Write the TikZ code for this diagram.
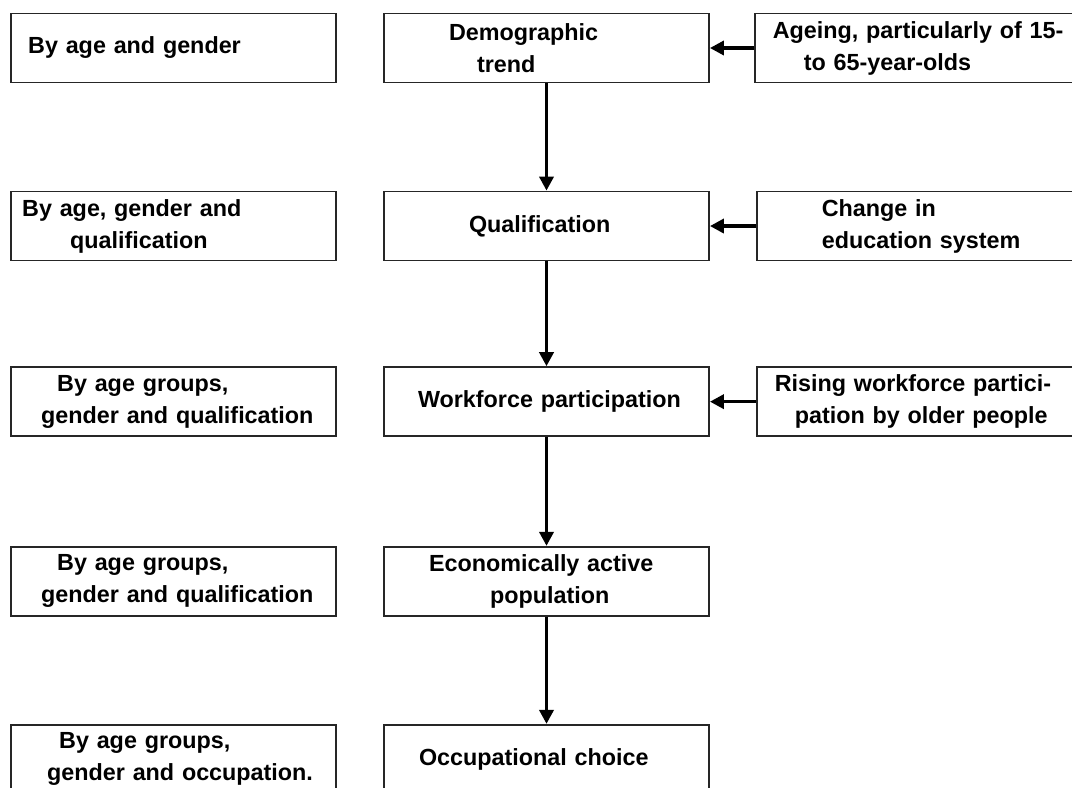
\documentclass[tikz,border=0pt]{standalone}
\usepackage{fontspec}
\setmainfont{Liberation Sans}
\usetikzlibrary{positioning,arrows.meta}

\tikzset{
  box/.style={draw=black!85, line width=1.3pt, minimum width=8.125cm, minimum height=1.725cm,
    inner sep=0pt, text width=8.125cm, align=left,
    font=\fontsize{16.6}{22.8}\selectfont\bfseries},
  rbox/.style={box, minimum width=8.6cm, text width=8.6cm},
  flow/.style={line width=2.6pt, -{Triangle[length=10pt,width=10pt]}},
}

\begin{document}
\begin{tikzpicture}
  \useasboundingbox (0,0) rectangle (26.8,-19.675);
  \clip (0,0) rectangle (26.8,-19.675);

  % middle column
  \node[box] (demo) at (13.6625,-1.2) {\hspace*{1.625cm}Demographic\\\hspace*{2.325cm}trend};
  \node[box, below=2.68cm of demo] (qual) {\hspace*{2.125cm}Qualification};
  \node[box, below=2.62cm of qual] (work) {\hspace*{0.85cm}Workforce participation};
  \node[box, below=2.72cm of work] (econ) {\hspace*{1.125cm}Economically active\\\hspace*{2.65cm}population};
  \node[box, below=2.68cm of econ] (occu) {\hspace*{0.875cm}Occupational choice};

  % left column
  \node[box, left=1.15cm of demo] (bydemo) {\hspace*{0.425cm}By age and gender};
  \node[box, left=1.15cm of qual] (byqual) {\hspace*{0.275cm}By age, gender and\\\hspace*{1.475cm}qualification};
  \node[box, left=1.15cm of work] (bywork) {\hspace*{1.15cm}By age groups,\\\hspace*{0.75cm}gender and qualification};
  \node[box, left=1.15cm of econ] (byecon) {\hspace*{1.15cm}By age groups,\\\hspace*{0.75cm}gender and qualification};
  \node[box, left=1.15cm of occu] (byoccu) {\hspace*{1.2cm}By age groups,\\\hspace*{0.9cm}gender and occupation.};

  % right column
  \node[rbox, right=1.1cm of demo] (ageing) {\hspace*{0.45cm}Ageing, particularly of 15-\\\hspace*{1.225cm}to 65-year-olds};
  \node[rbox, right=1.15cm of qual] (educ) {\hspace*{1.625cm}Change in\\\hspace*{1.625cm}education system};
  \node[rbox, right=1.15cm of work] (older) {\hspace*{0.45cm}Rising workforce partici-\\\hspace*{0.95cm}pation by older people};

  % arrows
  \draw[flow] (demo) -- (qual);
  \draw[flow] (qual) -- (work);
  \draw[flow] (work) -- (econ);
  \draw[flow] (econ) -- (occu);
  \draw[flow] (ageing) -- (demo);
  \draw[flow] (educ) -- (qual);
  \draw[flow] (older) -- (work);
\end{tikzpicture}
\end{document}
